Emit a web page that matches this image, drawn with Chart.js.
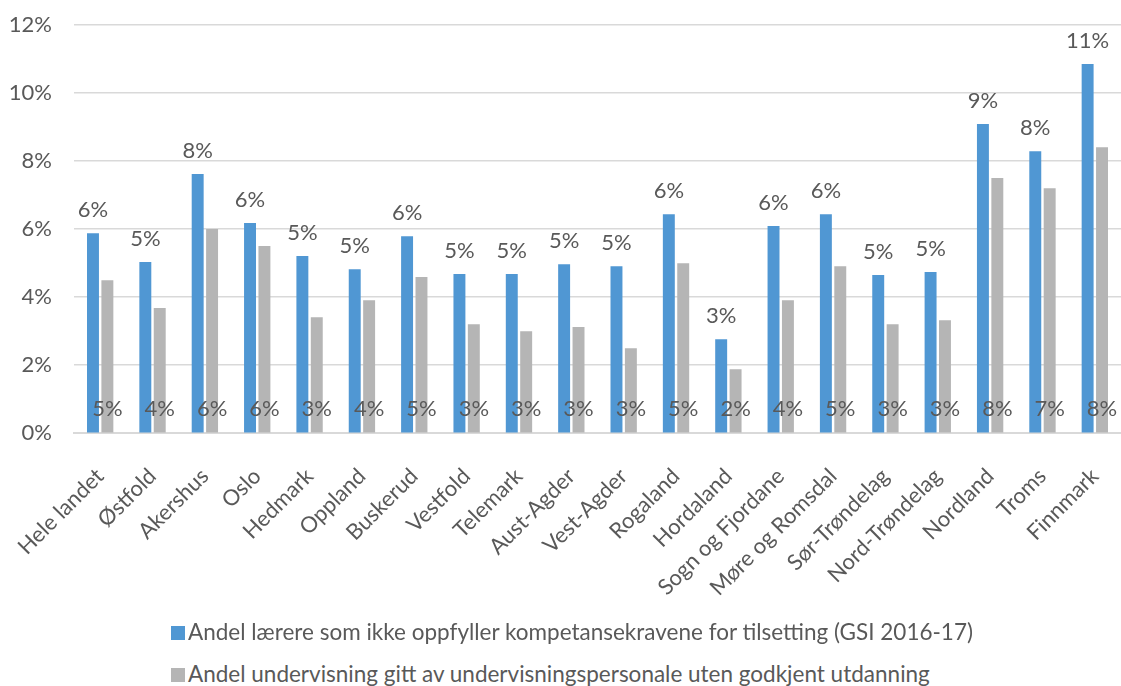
<!DOCTYPE html>
<html>
<head>
<meta charset="utf-8">
<script src="https://cdn.jsdelivr.net/npm/chart.js@4.4.1/dist/chart.umd.min.js"></script>
<style>
body{margin:0;background:#fff;font-family:Lato,sans-serif;overflow:hidden;}
#wrap{position:relative;width:1121px;height:623px;}
.legend{position:absolute;left:171px;height:26px;line-height:26px;font-size:22.5px;color:#595959;white-space:nowrap;}
.legend i{display:inline-block;width:14px;height:14px;margin-right:3px;vertical-align:0px;}
</style>
</head>
<body>
<div id="wrap"><canvas id="chart"></canvas></div>
<div class="legend" style="top:619px"><i style="background:#5097d3"></i>Andel lærere som ikke oppfyller kompetansekravene for tilsetting (GSI 2016-17)</div>
<div class="legend" style="top:661px"><i style="background:#b5b5b5"></i>Andel undervisning gitt av undervisningspersonale uten godkjent utdanning</div>
<script>
const fylker = ["Hele landet", "Østfold", "Akershus", "Oslo", "Hedmark", "Oppland", "Buskerud", "Vestfold", "Telemark", "Aust-Agder", "Vest-Agder", "Rogaland", "Hordaland", "Sogn og Fjordane", "Møre og Romsdal", "Sør-Trøndelag", "Nord-Trøndelag", "Nordland", "Troms", "Finnmark"];
const andelLaerere = [5.88, 5.03, 7.62, 6.18, 5.21, 4.82, 5.79, 4.68, 4.68, 4.97, 4.91, 6.44, 2.76, 6.09, 6.44, 4.65, 4.74, 9.09, 8.29, 10.85];
const andelUndervisning = [4.5, 3.68, 6.0, 5.5, 3.41, 3.91, 4.59, 3.2, 3.0, 3.12, 2.5, 5.0, 1.88, 3.91, 4.91, 3.2, 3.32, 7.5, 7.2, 8.41];
const yTicks = [0, 2, 4, 6, 8, 10, 12];

const textColor = '#595959';
const fontFam = 'Lato, sans-serif';
const fontSize = 22;

// prosent over blå søyler, grå verdier nede ved basen
const valueLabels = {
  id: 'valueLabels',
  afterDatasetsDraw(chart) {
    const ctx = chart.ctx;
    ctx.save();
    ctx.font = fontSize + 'px ' + fontFam;
    ctx.fillStyle = textColor;
    ctx.textAlign = 'center';
    ctx.textBaseline = 'middle';
    chart.getDatasetMeta(0).data.forEach((bar, i) => {
      ctx.fillText(Math.round(andelLaerere[i]) + '%', bar.x, bar.y - 23);
    });
    const base = chart.scales.y.getPixelForValue(0);
    chart.getDatasetMeta(1).data.forEach((bar, i) => {
      ctx.fillText(Math.round(andelUndervisning[i]) + '%', bar.x, base - 24);
    });
    ctx.restore();
  }
};

new Chart(document.getElementById('chart'), {
  type: 'bar',
  data: {
    labels: fylker,
    datasets: [{
      label: 'Andel lærere som ikke oppfyller kompetansekravene for tilsetting (GSI 2016-17)',
      data: andelLaerere,
      backgroundColor: '#5097d3',
      categoryPercentage: 0.55,
      barPercentage: 0.83
    }, {
      label: 'Andel undervisning gitt av undervisningspersonale uten godkjent utdanning',
      data: andelUndervisning,
      backgroundColor: '#b5b5b5',
      categoryPercentage: 0.55,
      barPercentage: 0.83
    }]
  },
  options: {
    responsive: true,
    maintainAspectRatio: false,
    animation: false,
    layout: { padding: { top: 25, right: 0, left: 0, bottom: 0 } },
    plugins: { legend: { display: false }, tooltip: { enabled: false } },
    scales: {
      x: {
        afterFit: (s) => { s.paddingLeft = 0; s.paddingRight = 0; },
        grid: { display: false },
        border: { color: '#d9d9d9', width: 2 },
        ticks: {
          color: textColor,
          font: { family: fontFam, size: fontSize },
          minRotation: 45,
          maxRotation: 45,
          padding: 22,
          autoSkip: false
        }
      },
      y: {
        min: 0,
        max: 12,
        afterBuildTicks: (s) => { s.ticks = yTicks.map(v => ({ value: v })); },
        afterFit: (s) => { s.width = 74; s.paddingTop = 0; s.paddingBottom = 0; },
        grid: { color: '#d9d9d9', lineWidth: 1.5, drawTicks: false },
        border: { display: false },
        ticks: {
          color: textColor,
          font: { family: fontFam, size: fontSize },
          padding: 22,
          callback: (v) => v + '%'
        }
      }
    }
  },
  plugins: [valueLabels]
});
</script>
</body>
</html>
